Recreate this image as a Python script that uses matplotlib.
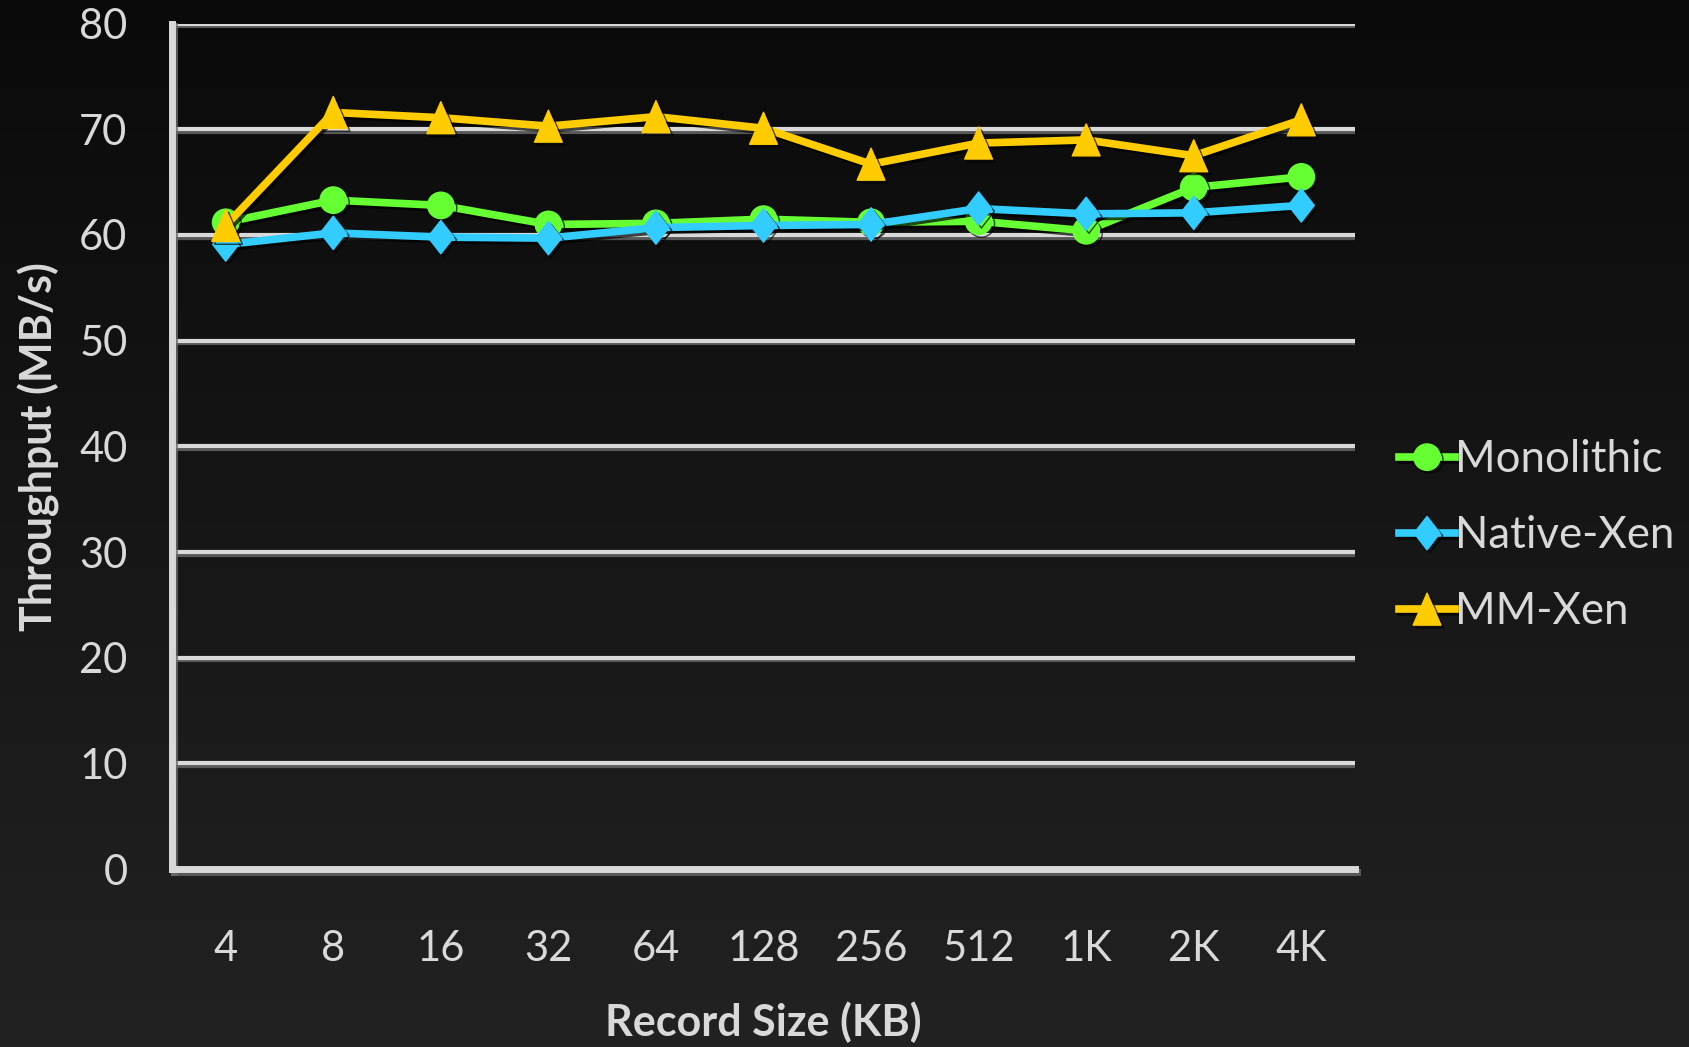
import matplotlib.pyplot as plt
import numpy as np
from matplotlib.path import Path
from matplotlib.colors import LinearSegmentedColormap
import matplotlib.patheffects as pe

plt.rcParams['font.family'] = ['Lato', 'DejaVu Sans']

record_sizes = ['4', '8', '16', '32', '64', '128', '256', '512', '1K', '2K', '4K']
monolithic = [61.2, 63.3, 62.8, 61.0, 61.1, 61.5, 61.2, 61.3, 60.4, 64.5, 65.5]
native_xen = [59.1, 60.2, 59.8, 59.7, 60.7, 60.9, 61.0, 62.5, 62.0, 62.1, 62.8]
mm_xen = [60.9, 71.6, 71.1, 70.3, 71.2, 70.1, 66.7, 68.7, 69.0, 67.5, 70.9]

fg = '#d9d9d9'

# taller-than-wide diamond and triangle markers
diamond = Path([(0, 1), (0.78, 0), (0, -1), (-0.78, 0), (0, 1)],
               [Path.MOVETO, Path.LINETO, Path.LINETO, Path.LINETO, Path.CLOSEPOLY])
triangle = Path([(0, 1), (0.87, -1), (-0.87, -1), (0, 1)],
                [Path.MOVETO, Path.LINETO, Path.LINETO, Path.CLOSEPOLY])

fig = plt.figure(figsize=(16.89, 10.47), dpi=100)

# dark vertical gradient background
bg = fig.add_axes([0, 0, 1, 1], zorder=-10)
grad = np.linspace(0, 1, 256).reshape(-1, 1)
cmap = LinearSegmentedColormap.from_list('bg', ['#0a0a0a', '#222222'])
bg.imshow(grad, aspect='auto', cmap=cmap, extent=[0, 1, 0, 1], origin='upper')
bg.axis('off')

ax = fig.add_axes([0.1018, 0.170, 0.7005, 0.8074])
ax.patch.set_alpha(0)

x = np.arange(len(record_sizes))
shadow = [pe.SimpleLineShadow(offset=(2, -2), shadow_color='black', alpha=0.7), pe.Normal()]

ax.plot(x, monolithic, color='#66ff33', lw=5.5, marker='o', ms=19,
        label='Monolithic', path_effects=shadow, zorder=3)
ax.plot(x, native_xen, color='#33ccff', lw=5.5, marker=diamond, ms=24,
        label='Native-Xen', path_effects=shadow, zorder=4)
ax.plot(x, mm_xen, color='#ffcc00', lw=5.5, marker=triangle, ms=23,
        label='MM-Xen', path_effects=shadow, zorder=5)

grid_fx = [pe.SimpleLineShadow(offset=(1.5, -2), shadow_color='#6a6a6a', alpha=0.8), pe.Normal()]
for v in range(10, 90, 10):
    ax.axhline(v, color=fg, lw=3, zorder=1, path_effects=grid_fx)

ax.set_xlim(-0.5, len(record_sizes) - 0.5)
ax.set_ylim(0, 80)
ax.set_yticks(range(0, 90, 10))
ax.set_xticks(x)
ax.set_xticklabels(record_sizes)
ax.tick_params(length=0, labelsize=30, colors=fg)
ax.tick_params(axis='x', pad=44)
ax.tick_params(axis='y', pad=32)

for side in ['top', 'right']:
    ax.spines[side].set_visible(False)
for side in ['left', 'bottom']:
    ax.spines[side].set_color(fg)
    ax.spines[side].set_linewidth(5)
    ax.spines[side].set_path_effects(grid_fx)

ax.set_xlabel('Record Size (KB)', fontsize=31, fontweight='bold', color=fg, labelpad=24)
ax.set_ylabel('Throughput (MB/s)', fontsize=31, fontweight='bold', color=fg, labelpad=14)

leg = ax.legend(loc='center left', bbox_to_anchor=(1.022, 0.394), frameon=False,
                fontsize=31.5, handlelength=1.3, handletextpad=0.0,
                labelspacing=0.8, borderaxespad=0)
for t in leg.get_texts():
    t.set_color(fg)

fig.savefig('out.png', dpi=100)
